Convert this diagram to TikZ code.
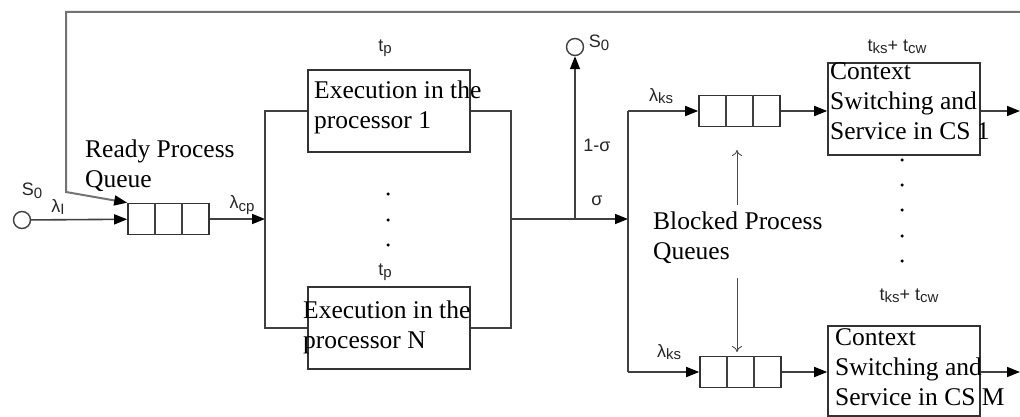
\documentclass[tikz,border=0pt]{standalone}
\usepackage{fontspec}
\setmainfont{Liberation Serif}
\newfontfamily\labfont{Liberation Sans}
\usetikzlibrary{arrows.meta,calc}
\newcommand\sbs[1]{\raisebox{-2.5pt}{\fontsize{15}{15}\selectfont #1}}
\begin{document}
\begin{tikzpicture}[x=1pt,y=-1pt,
  line/.style={draw=black!75, line width=1.6pt},
  arr/.style={line, -{Triangle[length=13pt,width=10pt,color=black]}},
  fbline/.style={draw=black!55, line width=2pt, -{Triangle[length=13pt,width=10pt,color=black]}},
  thinarr/.style={draw=black!70, line width=0.9pt, -{To[length=6pt,width=10pt]}},
  box/.style={draw=black!80, line width=1.6pt, minimum width=162pt, minimum height=82pt, inner sep=0pt},
  csbox/.style={draw=black!80, line width=1.6pt, minimum width=152pt, inner sep=0pt},
  queue/.style={draw=black!80, line width=1.6pt, minimum width=81pt, minimum height=31pt, inner sep=0pt},
  src/.style={circle, draw=black!75, line width=1.4pt, minimum size=17pt, inner sep=0pt},
  lbl/.style={font=\labfont\fontsize{18}{18}\selectfont, inner sep=0pt, text=black!85},
  btxt/.style={font=\fontsize{25.5}{30}\selectfont, align=left, inner sep=0pt, anchor=north west},
  dot/.style={circle, fill=black, inner sep=0pt, minimum size=3.5pt},
]
\useasboundingbox (0,0) rectangle (1020,417);

% source and ready queue
\node[src] (s0a) at (22,220) {};
\node[lbl] (s0al) at (32,191) {S\sbs{0}};
\node[lbl] (li) at (58,207) {λ\sbs{I}};
\node[queue] (rq) at (168.5,219) {};
\draw[line] ($(rq.north west)!1/3!(rq.north east)$) -- ($(rq.south west)!1/3!(rq.south east)$);
\draw[line] ($(rq.north west)!2/3!(rq.north east)$) -- ($(rq.south west)!2/3!(rq.south east)$);
\node[btxt] (rpq) at (85,140) {Ready Process\\Queue};
\node[lbl] (lcp) at (242,205) {λ\sbs{cp}};

% processors
\node[box] (p1) at (389,111) {};
\node[btxt] (p1t) at (314,81) {Execution in the\\processor 1};
\node[lbl] (tp1) at (385,48) {t\sbs{p}};
\node[box] (p2) at (389,328) {};
\node[btxt] (p2t) at (303,301) {Execution in the\\processor N};
\node[lbl] (tp2) at (385,272) {t\sbs{p}};
\node[dot] (d1) at (388,194) {};
\node[dot] (d2) at (388,220) {};
\node[dot] (d3) at (388,245) {};

% left junction
\coordinate (jl1) at (265,111);
\coordinate (jl2) at (265,328);
\coordinate (jin) at (265,219);
\draw[arr] (s0a) -- (rq);
\draw[arr] (rq.east) -- (jin);
\draw[line] (p1.west) -- (jl1) -- (jl2) -- (p2.west);

% right junction
\coordinate (jr1) at (511,111);
\coordinate (jr2) at (511,328);
\coordinate (jout) at (511,219);
\coordinate (jup) at (575,219);
\coordinate (jb) at (628,219);
\draw[line] (p1.east) -- (jr1) -- (jr2) -- (p2.east);
\draw[arr] (jout) -- (jb);
\node[src] (s0b) at (575,47) {};
\node[lbl] (s0bl) at (599,43) {S\sbs{0}};
\draw[arr] (jup) -- (s0b);
\node[lbl] (oms) at (597,145) {1-σ};
\node[lbl] (sig) at (597,201) {σ};

% blocked queues
\node[queue] (bq1) at (739.5,111) {};
\draw[line] ($(bq1.north west)!1/3!(bq1.north east)$) -- ($(bq1.south west)!1/3!(bq1.south east)$);
\draw[line] ($(bq1.north west)!2/3!(bq1.north east)$) -- ($(bq1.south west)!2/3!(bq1.south east)$);
\node[queue] (bq2) at (740.5,372) {};
\draw[line] ($(bq2.north west)!1/3!(bq2.north east)$) -- ($(bq2.south west)!1/3!(bq2.south east)$);
\draw[line] ($(bq2.north west)!2/3!(bq2.north east)$) -- ($(bq2.south west)!2/3!(bq2.south east)$);
\coordinate (jb1) at (628,111);
\coordinate (jb2) at (628,372);
\draw[line] (jb1) -- (jb2);
\draw[arr] (jb1) -- (bq1);
\draw[arr] (jb2) -- (bq2);
\node[lbl] (lks1) at (661,96) {λ\sbs{ks}};
\node[lbl] (lks2) at (669,352) {λ\sbs{ks}};
\node[btxt] (bpq) at (653,212) {Blocked Process\\Queues};
\coordinate (ua) at (737,205);
\coordinate (da) at (737,278);
\draw[thinarr] (ua) -- (ua |- 0,150);
\draw[thinarr] (da) -- (da |- 0,352);

% context switching boxes
\node[csbox, minimum height=92pt] (cs1) at (904,109) {};
\node[btxt] (cs1t) at (830,62) {Context\\Switching and\\Service in CS 1};
\node[lbl] (tk1) at (897,47) {t\sbs{ks}+ t\sbs{cw}};
\node[csbox, minimum height=90pt] (csm) at (904,371) {};
\node[btxt] (csmt) at (835,328) {Context\\Switching and\\Service in CS M};
\node[lbl] (tk2) at (909,296) {t\sbs{ks}+ t\sbs{cw}};
\foreach \y [count=\i] in {160,185,210,236,261} \node[dot] (cd\i) at (902,\y) {};
\coordinate (o1) at (1020,111);
\coordinate (o2) at (1020,372);
\draw[arr] (bq1) -- (cs1.west |- bq1);
\draw[arr] (bq2) -- (csm.west |- bq2);
\draw[arr] (cs1.east |- bq1) -- (o1);
\draw[arr] (csm.east |- bq2) -- (o2);

% feedback
\coordinate (fb1) at (1020,12);
\coordinate (fb2) at (66,12);
\coordinate (fb3) at (66,192);
\draw[fbline] (fb1) -- (fb2) -- (fb3) -- (rq.north west);
\end{tikzpicture}
\end{document}
